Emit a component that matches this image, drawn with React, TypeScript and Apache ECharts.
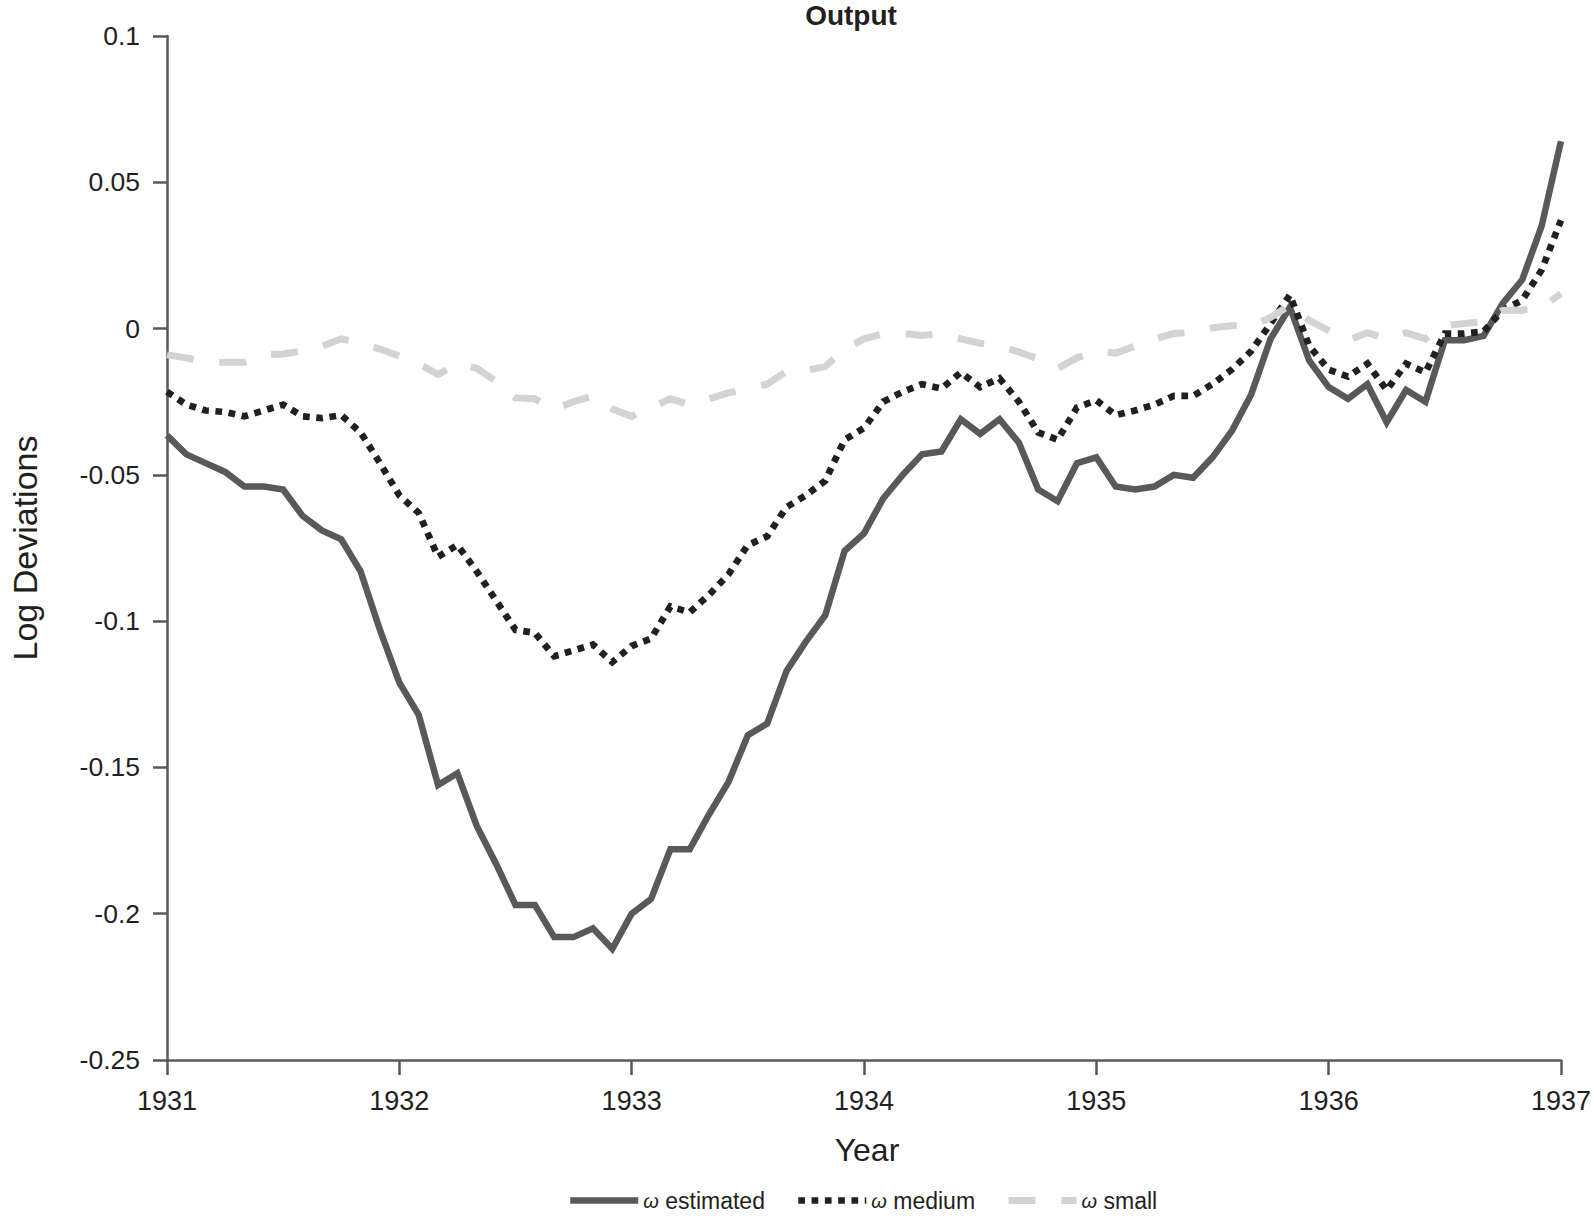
import React, { useEffect, useRef } from 'react';
import * as echarts from 'echarts';

const startYear = 1931;
const endYear = 1937;
const monthsPerYear = 12;

const seriesNames = ['ω estimated', 'ω medium', 'ω small'];

const estimated = [
  -0.0365, -0.043, -0.046, -0.049, -0.054, -0.054, -0.055, -0.064, -0.069, -0.072,
  -0.083, -0.103, -0.121, -0.132, -0.156, -0.152, -0.17, -0.183, -0.197, -0.197,
  -0.208, -0.208, -0.205, -0.212, -0.2, -0.195, -0.178, -0.178, -0.166, -0.155,
  -0.139, -0.135, -0.117, -0.107, -0.098, -0.076, -0.07, -0.058, -0.05, -0.043,
  -0.042, -0.031, -0.036, -0.031, -0.039, -0.055, -0.059, -0.046, -0.044, -0.054,
  -0.055, -0.054, -0.05, -0.051, -0.044, -0.035, -0.0225, -0.0035, 0.0073, -0.011,
  -0.02, -0.024, -0.019, -0.032, -0.021, -0.025, -0.004, -0.004, -0.0025, 0.0087,
  0.0167, 0.035, 0.064,
];

const medium = [
  -0.0216, -0.026, -0.028, -0.0285, -0.03, -0.028, -0.026, -0.03, -0.0306, -0.0296,
  -0.0355, -0.046, -0.057, -0.063, -0.078, -0.074, -0.083, -0.093, -0.103, -0.104,
  -0.112, -0.11, -0.108, -0.114, -0.1085, -0.106, -0.095, -0.097, -0.091, -0.084,
  -0.074, -0.071, -0.061, -0.057, -0.052, -0.038, -0.034, -0.025, -0.0216, -0.019,
  -0.0205, -0.015, -0.02, -0.017, -0.025, -0.0355, -0.038, -0.027, -0.0245, -0.0296,
  -0.028, -0.026, -0.023, -0.023, -0.019, -0.014, -0.0077, 0.0017, 0.0115, -0.006,
  -0.014, -0.0164, -0.012, -0.021, -0.012, -0.015, -0.0017, -0.0017, -0.001, 0.0063,
  0.0097, 0.02, 0.037,
];

const small = [
  -0.009, -0.01, -0.0115, -0.0115, -0.0115, -0.009, -0.0087, -0.0077, -0.006, -0.0035,
  -0.005, -0.007, -0.0094, -0.012, -0.0157, -0.012, -0.0136, -0.018, -0.0237, -0.024,
  -0.0275, -0.025, -0.023, -0.0275, -0.03, -0.027, -0.024, -0.026, -0.024, -0.022,
  -0.0205, -0.019, -0.0146, -0.0143, -0.013, -0.007, -0.0035, -0.0017, -0.0017, -0.0024,
  -0.0017, -0.0035, -0.005, -0.006, -0.008, -0.0104, -0.0136, -0.01, -0.0077, -0.0084,
  -0.006, -0.0035, -0.0017, -0.0014, 0.0003, 0.001, 0.0007, 0.0038, 0.008, 0.0028,
  -0.0007, -0.004, -0.0014, -0.0035, -0.0014, -0.0035, 0.001, 0.0017, 0.0024, 0.0063,
  0.0063, 0.007, 0.012,
];

const yMin = -0.25;
const yMax = 0.1;
const yStep = 0.05;

const toPairs = (vals: number[]) =>
  vals.map((v, i) => [startYear + i / monthsPerYear, v]);

const TEXT = '#231f20';
const AXIS = '#58595b';
const SANS = "'Liberation Sans', Arial, Helvetica, sans-serif";

const styles = [
  { color: '#58595b', width: 6.5, type: 'solid' as any },
  { color: '#231f20', width: 6.7, type: [6.7, 6.6] as any },
  { color: '#d1d3d4', width: 7, type: [27, 26] as any },
];

export default function App() {
  const ref = useRef<HTMLDivElement>(null);
  useEffect(() => {
    if (!ref.current) return;
    const chart = echarts.init(ref.current, null, { renderer: 'svg' });
    const data = [estimated, medium, small];
    chart.setOption({
      animation: false,
      backgroundColor: '#ffffff',
      title: {
        text: 'Output',
        left: 851,
        top: 1,
        textAlign: 'center',
        padding: 0,
        textStyle: { fontFamily: SANS, fontWeight: 'bold', fontSize: 28, color: TEXT },
      },
      legend: {
        left: 567,
        top: 1189,
        padding: 0,
        itemWidth: 68,
        itemHeight: 7,
        itemGap: 30,
        itemStyle: { opacity: 0 },
        textStyle: {
          fontFamily: SANS,
          fontSize: 23,
          color: TEXT,
          rich: { i: { fontFamily: SANS, fontStyle: 'italic', fontSize: 20, color: TEXT } },
        },
        formatter: (name: string) => name.replace('ω', '{i|ω}'),
        data: seriesNames.map((n, k) => ({
          name: n,
          lineStyle: { color: styles[k].color, width: styles[k].width, type: styles[k].type },
        })),
      },
      grid: { left: 157, right: 30, top: 36, bottom: 159, containLabel: false },
      xAxis: {
        type: 'value',
        min: startYear,
        max: endYear,
        interval: 1,
        name: 'Year',
        nameLocation: 'middle',
        nameGap: 74,
        nameTextStyle: { fontFamily: SANS, fontSize: 32, color: TEXT, padding: [0, 0, 0, 6] },
        axisLine: { show: true, onZero: false, lineStyle: { color: AXIS, width: 2.5 } },
        axisTick: { show: true, length: 15, lineStyle: { color: AXIS, width: 2.5 } },
        axisLabel: {
          margin: 27,
          fontFamily: SANS,
          fontSize: 27,
          color: TEXT,
          formatter: (v: number) => String(Math.round(v)),
        },
        splitLine: { show: false },
      },
      yAxis: {
        type: 'value',
        min: yMin,
        max: yMax,
        interval: yStep,
        name: 'Log Deviations',
        nameLocation: 'middle',
        nameGap: 125,
        nameTextStyle: { fontFamily: SANS, fontSize: 34, color: TEXT },
        axisLine: { show: true, onZero: false, lineStyle: { color: AXIS, width: 2.5 } },
        axisTick: { show: true, length: 14, lineStyle: { color: AXIS, width: 2.5 } },
        axisLabel: {
          margin: 27,
          fontFamily: SANS,
          fontSize: 26.5,
          color: TEXT,
          formatter: (v: number) => String(Math.round(v * 100) / 100),
        },
        splitLine: { show: false },
      },
      series: seriesNames.map((n, k) => ({
        name: n,
        type: 'line',
        data: toPairs(data[k]),
        symbol: 'none',
        showSymbol: false,
        lineStyle: { color: styles[k].color, width: styles[k].width, type: styles[k].type, cap: 'butt', join: 'miter' },
        itemStyle: { color: styles[k].color },
        z: 2 + k,
      })),
    });
    return () => chart.dispose();
  }, []);
  return (
    <div
      ref={ref}
      style={{ position: 'fixed', left: 0, top: 0, width: 1594, height: 1219, background: '#fff' }}
    />
  );
}
